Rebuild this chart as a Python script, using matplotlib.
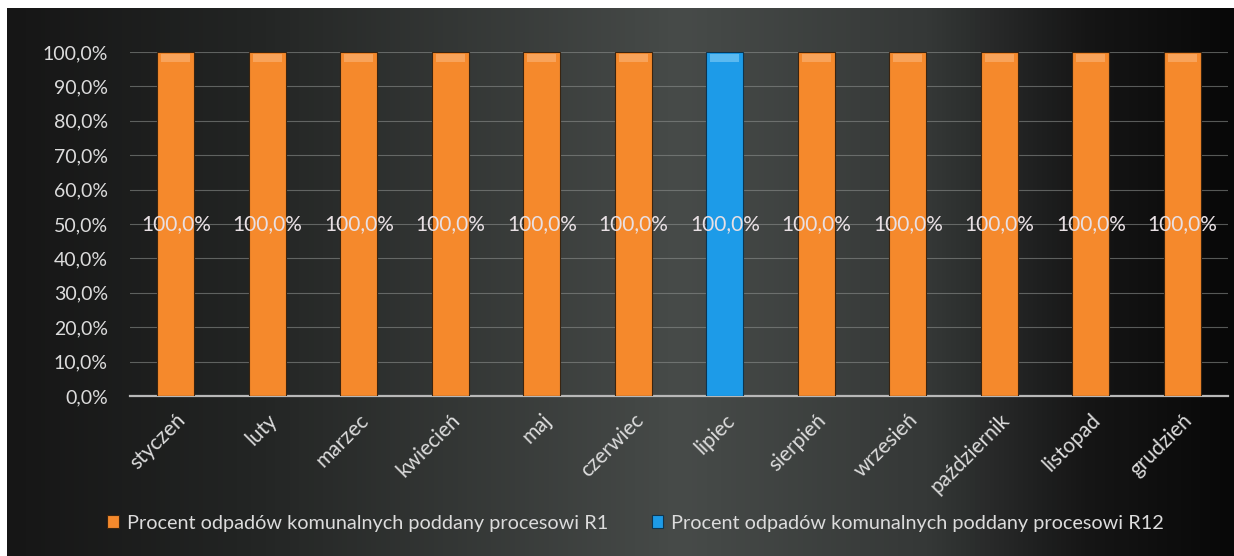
import numpy as np
import matplotlib.pyplot as plt
from matplotlib.colors import LinearSegmentedColormap

months = ['styczeń', 'luty', 'marzec', 'kwiecień', 'maj', 'czerwiec',
          'lipiec', 'sierpień', 'wrzesień', 'październik', 'listopad', 'grudzień']
r1 = [100, 100, 100, 100, 100, 100, 0, 100, 100, 100, 100, 100]
r12 = [0, 0, 0, 0, 0, 0, 100, 0, 0, 0, 0, 0]
series_names = ['Procent odpadów komunalnych poddany procesowi R1',
                'Procent odpadów komunalnych poddany procesowi R12']
yticks = [0, 10, 20, 30, 40, 50, 60, 70, 80, 90, 100]

plt.rcParams['font.family'] = ['Lato', 'DejaVu Sans']
txt = '#dcdcdc'
orange = '#f5892c'
blue = '#1d9be8'

fig = plt.figure(figsize=(12.34, 5.56), dpi=100)
fig.patch.set_facecolor('white')

# dark gradient background
bg = fig.add_axes([7/1234, 0, 1 - 7/1234, 1 - 8/556])
cmap = LinearSegmentedColormap.from_list('bg', [
    (0.0, '#161616'), (0.2, '#232524'), (0.55, '#474b49'),
    (0.75, '#353837'), (0.88, '#161616'), (1.0, '#080808')])
grad = np.linspace(0, 1, 256)[None, :]
bg.imshow(grad, aspect='auto', cmap=cmap, extent=[0, 1, 0, 1])
bg.axis('off')

ax = fig.add_axes([130/1234, 160/556, 1098/1234, 344/556])
ax.patch.set_alpha(0)
x = np.arange(len(months))
w = 0.4
ax.bar(x, r1, w, color=orange, edgecolor='#3a2410', linewidth=0.8, zorder=3, label=series_names[0])
ax.bar(x, r12, w, color=blue, edgecolor='#0d3550', linewidth=0.8, zorder=3, label=series_names[1])
# soft highlight at bar tops
ax.bar(x, [2.5 if v else 0 for v in r1], w * 0.8, bottom=[97 if v else 0 for v in r1],
       color='#f8a35a', linewidth=0, zorder=3.5)
ax.bar(x, [2.5 if v else 0 for v in r12], w * 0.8, bottom=[97 if v else 0 for v in r12],
       color='#5ab9f0', linewidth=0, zorder=3.5)

for i in x:
    v = max(r1[i], r12[i])
    ax.text(i, 50, f'{v:.1f}%'.replace('.', ','), ha='center', va='center',
            color='#e8e0e4', fontsize=15, zorder=4)

ax.set_xlim(-0.5, len(months) - 0.5)
ax.set_ylim(0, 100)
ax.set_yticks(yticks)
ax.set_yticklabels([f'{t:.1f}%'.replace('.', ',') for t in yticks])
ax.grid(axis='y', color='#8a8d8b', linewidth=0.8, alpha=0.6, zorder=0)
ax.set_xticks(x)
ax.set_xticklabels(months, rotation=45, ha='right', va='top', rotation_mode='anchor')
ax.tick_params(axis='x', length=0, colors=txt, labelsize=15, pad=10)
ax.tick_params(axis='y', length=0, colors=txt, labelsize=14, pad=16)
for s in ['top', 'right', 'left']:
    ax.spines[s].set_visible(False)
ax.spines['bottom'].set_color('#b8b8b8')
ax.spines['bottom'].set_linewidth(1.6)

leg = fig.legend(loc='center', bbox_to_anchor=(0.515, 33/556), ncol=2, frameon=False,
                 fontsize=14.3, labelcolor=txt, handlelength=0.6, handleheight=0.6,
                 handletextpad=0.4, columnspacing=2.2)

fig.savefig('out.png', dpi=100)
